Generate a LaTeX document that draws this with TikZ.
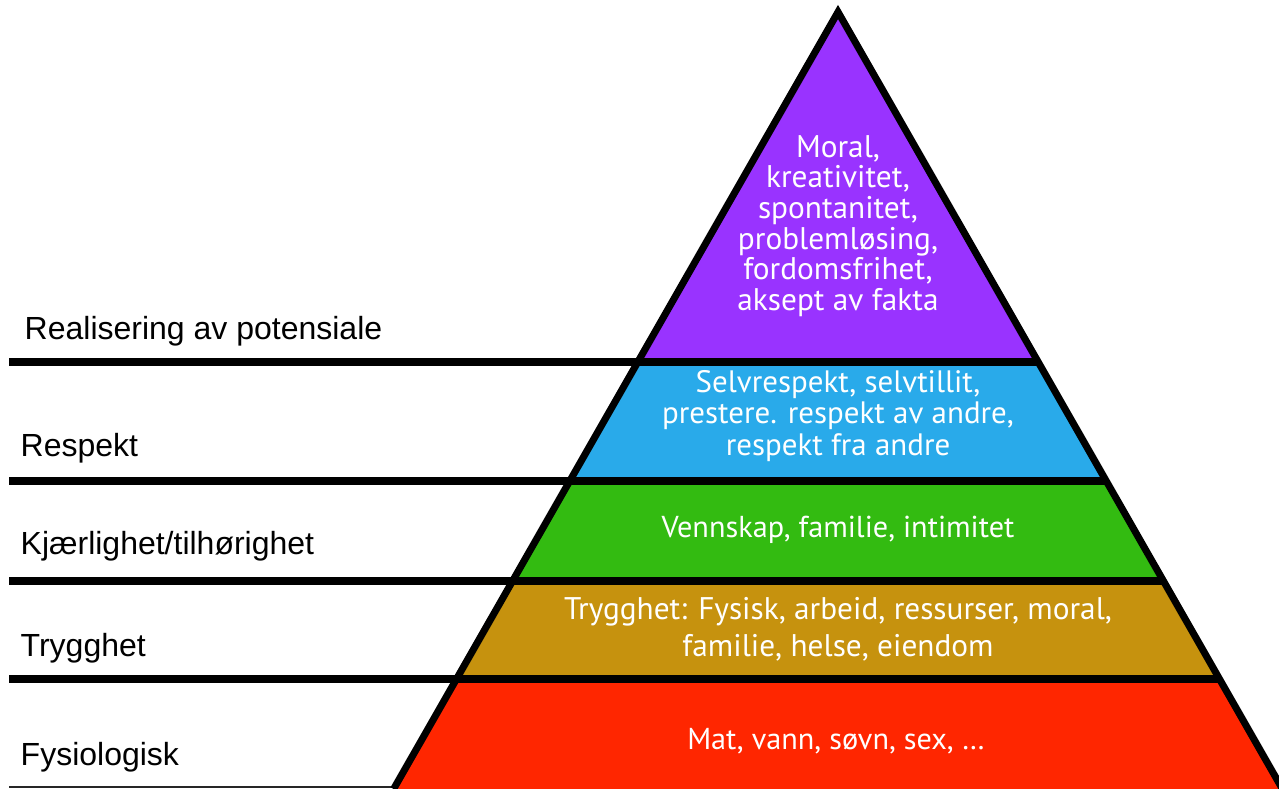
\documentclass[tikz,border=0pt]{standalone}
\usepackage{fontspec}
\setmainfont{PT Sans}
\newfontfamily\helv{Liberation Sans}
\usetikzlibrary{positioning}

\definecolor{topviolet}{RGB}{153,51,255}
\definecolor{respblue}{RGB}{41,170,234}
\definecolor{lovegreen}{RGB}{51,187,17}
\definecolor{safegold}{RGB}{198,146,14}
\definecolor{bodyred}{RGB}{255,38,0}

\begin{document}
\begin{tikzpicture}[x=0.01cm,y=-0.01cm,
	band/.style={line join=miter},
	rule/.style={line width=2pt},
	level/.style={text=white,align=center,font=\fontsize{8.9}{8.7}\selectfont},
	tag/.style={anchor=base west,inner sep=0pt,font=\helv\fontsize{9.1}{10}\selectfont}]
	\useasboundingbox (0,0) rectangle (1279,789);
	
	% pyramid corners
	\coordinate (apex) at (838,12);
	\coordinate (bl) at (393.6,789);
	\coordinate (br) at (1282.4,789);
	
	% bands
	\fill[band,topviolet] (apex) -- (1038.2,362) -- (637.8,362) -- cycle;
	\fill[band,respblue] (637.8,362) -- (1038.2,362) -- (1106.3,481) -- (569.7,481) -- cycle;
	\fill[band,lovegreen] (569.7,481) -- (1106.3,481) -- (1163.5,581) -- (512.5,581) -- cycle;
	\fill[band,safegold] (512.5,581) -- (1163.5,581) -- (1219.5,679) -- (456.5,679) -- cycle;
	\fill[band,bodyred] (456.5,679) -- (1219.5,679) -- (br) -- (bl) -- cycle;
	
	% rules from the left margin through the pyramid
	\foreach \y/\xr in {362/1038.2, 481/1106.3, 581/1163.5, 679/1219.5}
		\draw[rule] (9,\y) -- (\xr,\y);
	\draw[line width=0.6pt,black!85] (9,787) -- (393,787);
	
	\draw[rule,line join=miter] (bl) -- (apex) -- (br);
	
	% texts in the pyramid
	\node[level] (moral) at (838,226) {Moral,\\kreativitet,\\spontanitet,\\probleml\o sing,\\fordomsfrihet,\\aksept av fakta};
	\node[level,font=\fontsize{8.8}{8.9}\selectfont] (selv) at (838,416) {Selvrespekt, selvtillit,\\prestere. respekt av andre,\\respekt fra andre};
	\node[level,font=\fontsize{8.6}{8.7}\selectfont] (venn) at (838,530) {Vennskap, familie, intimitet};
	\node[level,font=\fontsize{8.9}{10.6}\selectfont] (fysisk) at (838,629) {Trygghet: Fysisk, arbeid, ressurser, moral,\\familie, helse, eiendom};
	\node[level,font=\fontsize{8.6}{8.7}\selectfont] (mat) at (836,741) {Mat, vann, s\o vn, sex, \dots};
	
	% level names
	\node[tag] (real) at (24,340) {Realisering av potensiale};
	\node[tag] (resp) at (20,457) {Respekt};
	\node[tag] (kjaer) at (20,555) {Kj\ae rlighet/tilh\o righet};
	\node[tag] (tryg) at (20,657) {Trygghet};
	\node[tag] (fys) at (20,766) {Fysiologisk};
\end{tikzpicture}
\end{document}
